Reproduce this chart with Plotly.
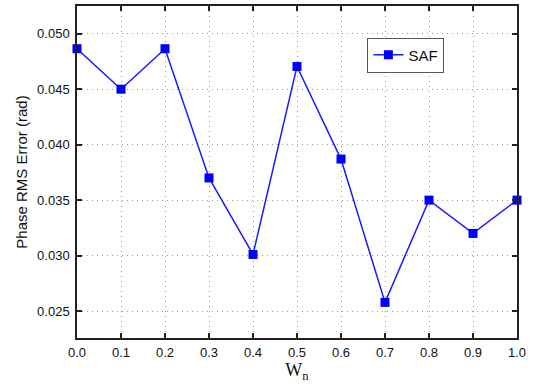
import plotly.graph_objects as go

wn = [0.0, 0.1, 0.2, 0.3, 0.4, 0.5, 0.6, 0.7, 0.8, 0.9, 1.0]
saf = [0.04865, 0.0450, 0.04865, 0.0370, 0.0301, 0.04705, 0.0387, 0.02578, 0.0350, 0.0320, 0.0350]
x_ticks = [0.0, 0.1, 0.2, 0.3, 0.4, 0.5, 0.6, 0.7, 0.8, 0.9, 1.0]
y_ticks = [0.025, 0.030, 0.035, 0.040, 0.045, 0.050]

fig = go.Figure()
fig.add_trace(go.Scatter(
    x=wn, y=saf, mode="lines+markers", name="SAF",
    line=dict(color="#1a1aff", width=1.5),
    marker=dict(symbol="square", size=9, color="#0000ff"),
    cliponaxis=False,
))

axis_common = dict(
    showline=True, linecolor="#222222", linewidth=1.5, mirror="ticks",
    ticks="inside", ticklen=5, tickwidth=1.5, tickcolor="#222222",
    showgrid=True, gridcolor="#999999", griddash="1px,4px", gridwidth=1.2,
    zeroline=False, automargin=False,
    tickfont=dict(family="Liberation Sans, Arial", size=13, color="#111111"),
)

fig.update_layout(
    width=536, height=387,
    margin=dict(l=77, r=19, t=6, b=49),
    paper_bgcolor="white", plot_bgcolor="white",
    showlegend=True,
    legend=dict(
        x=0.66, y=0.905, xanchor="left", yanchor="top",
        bordercolor="#555555", borderwidth=1, bgcolor="white",
        font=dict(family="Liberation Sans, Arial", size=15, color="#111111"),
        tracegroupgap=0,
    ),
    xaxis=dict(
        range=[0, 1.0], tickvals=x_ticks, ticktext=[f"{v:.1f}" for v in x_ticks],
        ticklabelstandoff=2,
        title=dict(text="W<sub>n</sub>", font=dict(family="Liberation Serif, Times New Roman", size=18, color="#111111"), standoff=2),
        **axis_common,
    ),
    yaxis=dict(
        range=[0.02257, 0.0525], tickvals=y_ticks, ticktext=[f"{v:.3f}" for v in y_ticks],
        ticklabelstandoff=3,
        title=dict(text="Phase RMS Error (rad)", font=dict(family="Liberation Sans, Arial", size=15, color="#111111"), standoff=6),
        **axis_common,
    ),
)

fig.write_html(
    "out.html",
    config={"displayModeBar": False},
    post_script="document.body.style.margin='0';document.body.style.padding='0';document.body.style.overflow='hidden';",
)
